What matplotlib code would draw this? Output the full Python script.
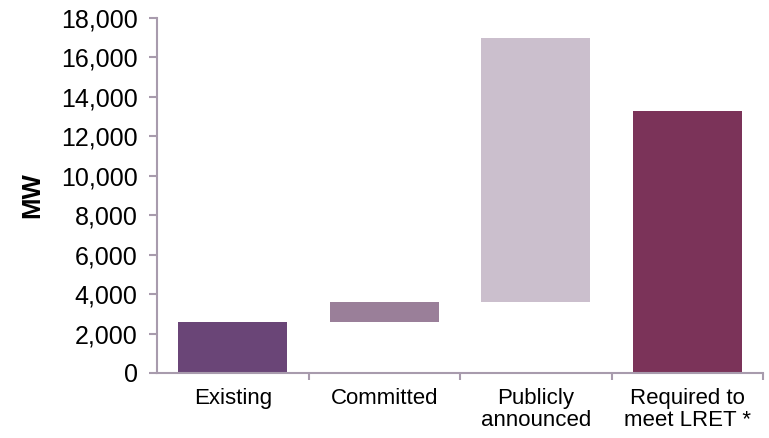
import matplotlib
matplotlib.use("Agg")
import matplotlib.pyplot as plt
from matplotlib.ticker import FuncFormatter, FixedLocator

plt.rcParams['font.family'] = ['Liberation Sans', 'DejaVu Sans']

categories = ["Existing", "Committed", "Publicly\nannounced", "Required to\nmeet LRET *"]
bottoms = [0, 2600, 3600, 0]
tops = [2600, 3600, 17000, 13300]
colors = ["#6A4577", "#9A7F99", "#CBBFCD", "#7B3359"]

fig = plt.figure(figsize=(7.69, 4.38), dpi=100)
ax = fig.add_axes([157/769, 1-373/438, (763-157)/769, (373-18)/438])

x = list(range(len(categories)))
heights = [t - b for t, b in zip(tops, bottoms)]
ax.bar(x, heights, bottom=bottoms, width=0.72, color=colors, zorder=2)

ax.set_xlim(-0.5, len(categories) - 0.5)
ax.set_ylim(0, 18000)
ax.set_yticks(range(0, 18001, 2000))
ax.yaxis.set_major_formatter(FuncFormatter(lambda v, p: f"{int(v):,}"))

axis_col = "#A89BAD"
for s in ["top", "right"]:
    ax.spines[s].set_visible(False)
for s in ["left", "bottom"]:
    ax.spines[s].set_color(axis_col)
    ax.spines[s].set_linewidth(1.5)

ax.set_xticks(x)
ax.set_xticklabels(categories, fontsize=16, linespacing=1.02)
ax.tick_params(axis='x', length=0, pad=11)
ax.xaxis.set_minor_locator(FixedLocator([i + 0.5 for i in range(len(categories))]))
ax.tick_params(axis='x', which='minor', length=5, width=1.5, color=axis_col, direction='out')
ax.tick_params(axis='y', length=6, width=1.5, color=axis_col, labelsize=18, pad=8)

ax.set_ylabel("MW", fontsize=18.5, fontweight='bold')
ax.yaxis.set_label_coords((44-157)/606, 0.5)

fig.savefig("out.png", dpi=100)
